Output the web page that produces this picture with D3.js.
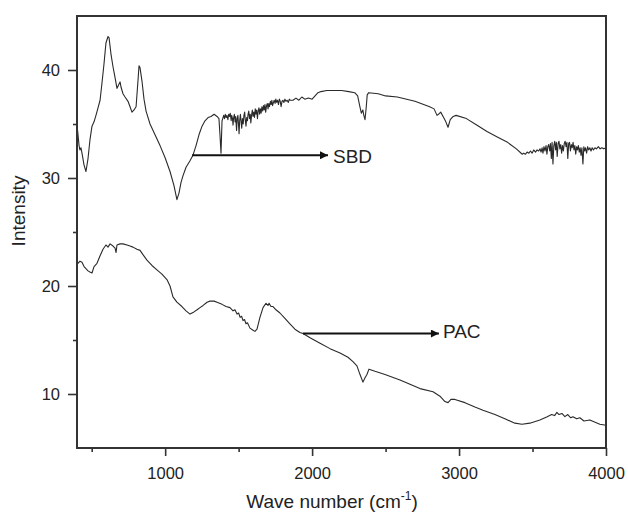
<!DOCTYPE html>
<html>
<head>
<meta charset="utf-8">
<script src="https://cdn.jsdelivr.net/npm/d3@7"></script>
<style>
  html, body { margin: 0; padding: 0; background: #fff; }
  svg text { font-family: "Liberation Sans", Arial, sans-serif; fill: #222; }
</style>
</head>
<body>
<svg id="chart" width="628" height="513"></svg>
<script>
// ---------- data ----------
const xTicksMajor = [1000, 2000, 3000, 4000];
const xTicksMinor = [500, 1500, 2500, 3500];
const yTicksMajor = [10, 20, 30, 40];
const yTicksMinor = [15, 25, 35];

// SBD spectrum: [wave number, intensity]
const sbdSpectrum = [
[400,34.9],[407,34.0],[414,33.0],[420,32.6],[427,32.8],[434,32.3],[448,31.2],[461,30.6],[475,31.8],[488,33.5],
[502,34.8],[516,35.2],[529,35.8],[543,36.5],[557,37.2],[570,38.8],[584,40.6],[597,42.5],[611,43.1],[618,43.0],
[631,41.5],[645,40.3],[659,39.3],[672,38.3],[679,38.5],[693,38.9],[700,38.4],[713,37.8],[727,37.5],[747,37.1],
[761,36.6],[774,36.1],[788,36.3],[802,36.6],[815,39.0],[822,40.4],[829,40.2],[842,39.0],[856,37.3],[870,36.2],
[897,35.0],[931,34.0],[965,33.0],[999,31.9],[1033,30.6],[1060,29.3],[1080,28.0],[1094,28.6],[1108,29.6],[1121,30.2],
[1142,31.0],[1169,31.6],[1189,32.1],[1210,33.0],[1230,34.0],[1251,34.8],[1271,35.3],[1292,35.6],[1312,35.7],[1333,35.9],
[1353,35.7],[1366,35.5],[1373,34.0],[1380,32.3],[1387,35.3],
[1392,35.5],[1398,35.8],[1404,35.5],[1409,35.9],[1415,35.6],[1420,35.8],[1427,35.4],[1432,35.9],[1438,35.7],[1443,36.0],
[1449,35.3],[1453,35.8],[1458,35.5],[1462,34.9],[1466,35.6],[1471,35.9],[1476,35.2],[1480,35.7],[1486,34.4],[1490,35.5],
[1495,35.8],[1499,35.0],[1503,34.1],[1507,35.3],[1512,35.9],[1517,35.2],[1521,34.6],[1526,35.5],[1531,35.0],[1536,35.8],
[1541,36.1],[1545,35.4],[1550,34.8],[1555,35.6],[1560,35.3],[1564,35.9],[1569,36.2],[1574,35.5],[1579,35.9],[1583,35.1],
[1588,35.8],[1593,36.3],[1598,35.7],[1603,36.1],[1608,35.6],[1613,36.4],[1618,35.9],[1623,36.3],[1628,35.5],[1633,36.2],
[1638,36.5],[1643,35.9],[1648,36.4],[1653,36.0],[1658,36.6],[1664,36.2],[1669,36.7],[1674,36.3],[1679,36.8],[1684,36.1],
[1690,36.7],[1695,36.9],[1700,36.4],[1705,36.9],[1710,36.6],[1716,37.1],[1721,36.8],[1726,37.2],[1731,36.7],[1737,37.0],
[1742,37.2],[1748,36.9],[1753,37.3],[1759,37.0],[1765,37.2],[1771,36.8],[1777,37.3],[1783,37.1],[1789,36.6],[1795,37.1],
[1801,37.2],[1808,37.0],[1815,37.3],[1822,37.1],[1830,37.2],[1838,37.0],[1845,37.3],[1850,37.2],
[1870,37.2],[1890,37.4],[1910,37.2],[1930,37.5],[1950,37.3],[1975,37.4],[2000,37.3],[2020,37.6],[2040,37.9],[2060,38.0],
[2100,38.1],[2150,38.1],[2200,38.1],[2250,38.0],[2290,37.9],[2310,37.6],[2325,36.6],[2335,36.0],[2345,36.3],[2352,35.8],
[2360,35.4],[2368,36.5],[2375,37.7],[2385,37.9],[2450,37.8],[2500,37.6],[2580,37.5],[2700,37.1],[2800,36.6],[2830,36.4],
[2850,35.8],[2860,35.9],[2875,36.1],[2895,35.6],[2910,35.2],[2925,34.7],[2940,35.4],[2960,35.7],[2980,35.8],[3050,35.5],
[3120,34.9],[3190,34.3],[3260,33.8],[3330,33.3],[3390,32.7],[3430,32.2],
[3440,32.3],[3452,32.2],[3463,32.4],[3475,32.3],[3486,32.5],[3497,32.3],[3508,32.6],[3520,32.4],[3531,32.6],[3542,32.5],
[3551,32.7],[3558,32.4],[3565,32.8],[3571,32.3],[3578,32.9],[3585,32.5],[3592,33.0],[3598,32.2],[3604,32.9],[3610,33.1],
[3617,32.5],[3622,33.2],[3628,31.8],[3633,33.3],[3639,31.3],[3645,33.0],[3651,33.4],[3657,32.6],[3662,33.3],[3668,32.0],
[3674,33.2],[3680,33.4],[3686,32.7],[3692,33.1],[3698,32.3],[3704,33.0],[3710,32.5],[3716,33.2],[3722,33.4],[3728,32.9],
[3734,33.3],[3740,31.8],[3746,33.2],[3752,33.3],[3758,32.5],[3764,33.1],[3770,32.8],[3776,33.3],[3782,32.6],[3788,33.0],
[3794,32.2],[3800,32.9],[3806,32.6],[3812,33.0],[3818,32.4],[3824,32.8],[3830,32.1],[3836,32.8],[3843,31.3],[3849,32.9],
[3855,32.5],[3861,32.8],[3868,32.3],[3875,32.9],[3882,32.6],[3890,32.8],[3898,32.5],[3906,32.8],[3915,32.6],[3925,32.8],
[3935,32.7],[3948,32.9],[3960,32.7],[3972,32.8],[3985,32.7],[4000,32.8]
];

// PAC spectrum: [wave number, intensity]
const pacSpectrum = [
[400,22.4],[407,22.1],[420,22.3],[434,22.2],[448,21.8],[461,21.6],[475,21.4],[488,21.3],[502,21.2],[516,21.8],
[536,22.1],[557,22.8],[577,23.4],[597,23.8],[611,23.6],[625,23.9],[645,23.7],[659,23.5],[666,23.1],[672,23.8],
[693,23.9],[713,23.9],[740,23.8],[761,23.7],[781,23.6],[808,23.4],[829,23.3],[849,22.9],[876,22.4],[910,21.9],
[944,21.5],[978,21.1],[1012,20.6],[1033,20.0],[1053,19.0],[1080,18.5],[1114,18.1],[1142,17.7],[1169,17.4],[1196,17.6],
[1217,17.8],[1237,18.0],[1258,18.2],[1285,18.5],[1305,18.6],[1333,18.6],[1353,18.5],[1387,18.3],[1414,18.1],[1441,18.0],
[1462,17.7],[1475,17.8],[1489,17.4],[1500,17.5],[1510,17.1],[1520,17.2],[1530,16.8],[1540,16.9],[1550,16.5],[1560,16.6],
[1577,16.1],[1598,15.9],[1611,15.8],[1625,16.0],[1645,17.1],[1666,18.0],[1686,18.4],[1700,18.2],[1707,18.4],[1720,18.1],
[1734,18.1],[1754,17.8],[1781,17.5],[1815,17.0],[1849,16.5],[1883,16.0],[1917,15.7],[1938,15.6],[1986,15.2],[2054,14.7],
[2122,14.2],[2190,13.8],[2244,13.4],[2278,13.0],[2305,12.6],[2326,11.8],[2346,11.1],[2360,11.5],[2373,11.8],[2387,12.3],
[2428,12.1],[2496,11.8],[2598,11.3],[2666,10.9],[2734,10.5],[2823,10.2],[2870,9.8],[2904,9.3],[2925,9.2],[2945,9.5],
[2972,9.5],[3040,9.2],[3108,8.8],[3163,8.5],[3244,8.1],[3312,7.7],[3380,7.3],[3428,7.2],[3482,7.3],[3550,7.6],
[3600,7.9],[3630,8.1],[3650,8.0],[3666,8.3],[3680,8.1],[3700,8.2],[3720,7.9],[3740,8.1],[3760,7.8],[3775,7.9],
[3800,7.7],[3822,7.8],[3850,7.5],[3890,7.6],[3958,7.2],[4000,7.1]
];

const annotations = [
  { label: "SBD", x0: 1183, x1: 2108, y: 32.1, tx: 2142, ty: 31.4 },
  { label: "PAC", x0: 1938, x1: 2863, y: 15.6, tx: 2890, ty: 15.2 }
];

// ---------- layout ----------
const W = 628, H = 513;
const margin = { left: 77, top: 16, right: 22, bottom: 65 };
const iw = W - margin.left - margin.right;
const ih = H - margin.top - margin.bottom;

const svg = d3.select("#chart");
const g = svg.append("g").attr("transform", `translate(${margin.left},${margin.top})`);

const x = d3.scaleLinear().domain([400, 4000]).range([0, iw]);
const y = d3.scaleLinear().domain([5, 45]).range([ih, 0]);

const axisColor = "#333";

// minor ticks
g.append("g").attr("transform", `translate(0,${ih})`)
  .call(d3.axisBottom(x).tickValues(xTicksMinor).tickSize(4).tickFormat(""))
  .call(a => a.select(".domain").remove());
g.append("g")
  .call(d3.axisLeft(y).tickValues(yTicksMinor).tickSize(4).tickFormat(""))
  .call(a => a.select(".domain").remove());

// major ticks
const xAx = g.append("g").attr("transform", `translate(0,${ih})`)
  .call(d3.axisBottom(x).tickValues(xTicksMajor).tickSize(8).tickPadding(11).tickFormat(d3.format("d")));
xAx.select(".domain").remove();
const yAx = g.append("g")
  .call(d3.axisLeft(y).tickValues(yTicksMajor).tickSize(9).tickPadding(8).tickFormat(d3.format("d")));
yAx.select(".domain").remove();

g.selectAll(".tick line").attr("stroke", axisColor).attr("stroke-width", 1.6);
g.selectAll(".tick text").attr("font-size", 16.5).attr("fill", "#222")
  .attr("font-family", "'Liberation Sans', Arial, sans-serif");

// curves
const line = d3.line().x(d => x(d[0])).y(d => y(d[1]));

g.append("path").datum(sbdSpectrum).attr("d", line)
  .attr("fill", "none").attr("stroke", "#2a2a2a").attr("stroke-width", 1.1).attr("stroke-linejoin", "round");
g.append("path").datum(pacSpectrum).attr("d", line)
  .attr("fill", "none").attr("stroke", "#2a2a2a").attr("stroke-width", 1.1).attr("stroke-linejoin", "round");

// frame
g.append("rect").attr("x", 0).attr("y", 0).attr("width", iw).attr("height", ih)
  .attr("fill", "none").attr("stroke", axisColor).attr("stroke-width", 2);

// arrow marker
svg.append("defs").append("marker")
  .attr("id", "arrow").attr("viewBox", "0 0 10 10").attr("refX", 10).attr("refY", 5)
  .attr("markerWidth", 12).attr("markerHeight", 8).attr("markerUnits", "userSpaceOnUse")
  .attr("orient", "auto")
  .append("path").attr("d", "M0,0 L10,5 L0,10 Z").attr("fill", "#111");

annotations.forEach(a => {
  g.append("line")
    .attr("x1", x(a.x0)).attr("x2", x(a.x1)).attr("y1", y(a.y)).attr("y2", y(a.y))
    .attr("stroke", "#111").attr("stroke-width", 2).attr("marker-end", "url(#arrow)");
  g.append("text").attr("x", x(a.tx)).attr("y", y(a.ty))
    .attr("font-size", 19).text(a.label);
});

// axis titles
const xt = svg.append("text").attr("x", 332).attr("y", 508).attr("text-anchor", "middle")
  .attr("font-size", 19);
xt.append("tspan").text("Wave number (cm");
xt.append("tspan").attr("font-size", 12).attr("dy", -8).text("-1");
xt.append("tspan").attr("dy", 8).text(")");

svg.append("text")
  .attr("transform", "translate(25,211) rotate(-90)")
  .attr("text-anchor", "middle").attr("font-size", 19).text("Intensity");
</script>
</body>
</html>
